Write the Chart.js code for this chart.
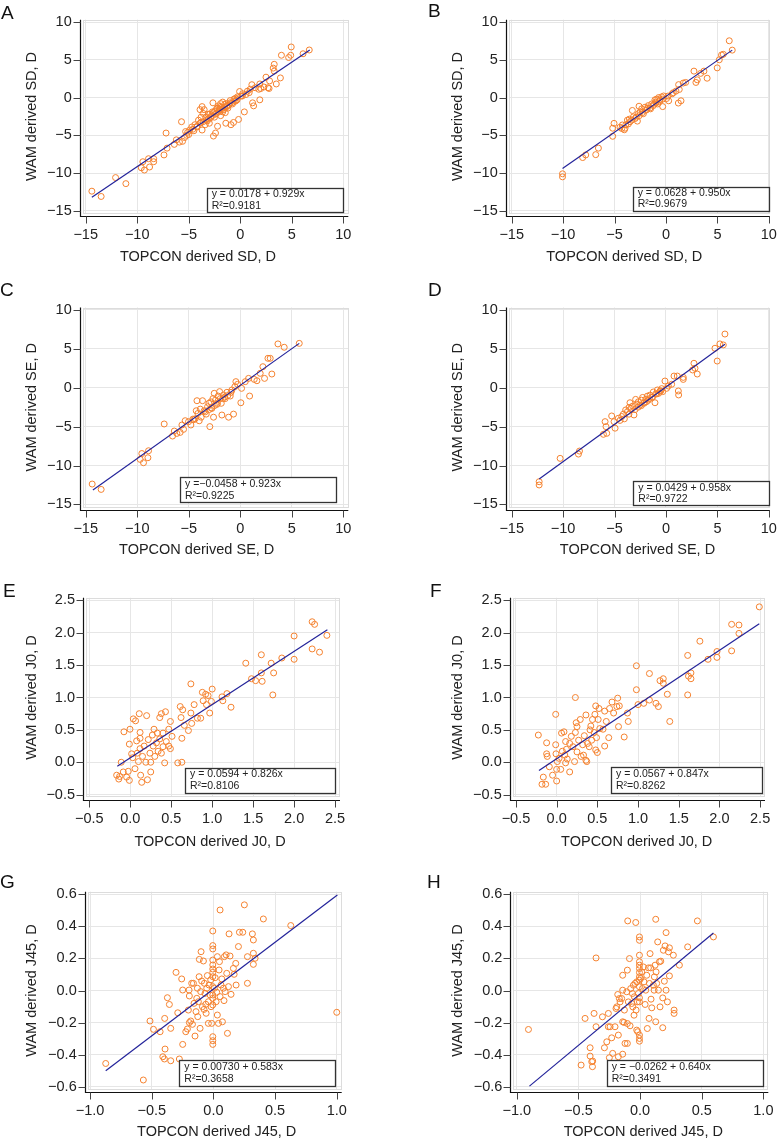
<!DOCTYPE html>
<html>
<head>
<meta charset="utf-8">
<script src="https://cdn.jsdelivr.net/npm/chart.js@4.4.1/dist/chart.umd.min.js"></script>
<style>
  body { margin: 0; background: #fff; }
  #fig { position: relative; width: 780px; height: 1140px; overflow: hidden; background: #fff;
         font-family: "Liberation Sans", Arial, sans-serif; }
  #fig canvas { position: absolute; }
  .tag { position: absolute; font-size: 19px; line-height: 19px; color: #111; }
</style>
</head>
<body>
<div id="fig"></div>
<script>
// Tick values
const sdTicks = [-15, -10, -5, 0, 5, 10];
const j0Ticks = [-0.5, 0, 0.5, 1, 1.5, 2, 2.5];
const j45xTicks = [-1, -0.5, 0, 0.5, 1];
const j45yTicks = [-0.6, -0.4, -0.2, 0, 0.2, 0.4, 0.6];

// Panel A: TOPCON SD vs WAM SD
const pointsA = [[-14.4,-12.4],[-13.5,-13.1],[-12.1,-10.6],[-11.1,-11.4],[-9.6,-9.3],[-9.3,-9.6],[-9.45,-8.5],[-8.9,-8.1],[-8.8,-9.2],[-8.4,-8.5],[-8.4,-8.1],[-7.4,-7.6],[-7.2,-4.7],[-7.1,-6.7],[-6.4,-6.2],[-6.2,-5.6],[-5.9,-5.9],[-5.7,-3.2],[-5.6,-5.8],[-5.4,-5.3],[-5.3,-4.5],[-5.2,-5.0],[-5.0,-4.9],[-4.9,-4.3],[-4.7,-3.9],[-4.5,-4.4],[-4.4,-3.6],[-4.2,-3.8],[-4.05,-3.0],[-3.9,-3.4],[-3.9,-1.6],[-3.8,-2.6],[-3.7,-1.2],[-3.6,-2.1],[-3.5,-1.6],[-3.7,-4.3],[-3.4,-3.6],[-3.2,-3.1],[-3.1,-2.8],[-3.0,-3.4],[-2.85,-2.5],[-2.7,-1.9],[-2.65,-0.7],[-2.6,-5.1],[-2.5,-2.6],[-2.4,-4.7],[-2.3,-2.1],[-2.3,-1.5],[-2.2,-3.8],[-2.1,-1.1],[-2.0,-1.7],[-1.9,-0.8],[-1.9,-2.4],[-1.8,-1.3],[-1.7,-0.6],[-1.6,-1.6],[-1.5,-0.9],[-1.45,-2.0],[-1.4,-3.4],[-1.3,-1.1],[-1.2,-1.4],[-1.0,-0.7],[-0.97,-0.4],[-0.9,-3.6],[-0.75,-0.85],[-0.65,-3.3],[-0.6,-0.2],[-0.45,-0.1],[-0.4,-0.4],[-0.26,0.1],[-0.16,-2.9],[-0.06,0.8],[0.06,0.2],[0.23,0.5],[0.4,-1.9],[0.55,0.4],[0.7,0.85],[0.87,0.65],[0.97,1.1],[1.13,1.7],[1.2,-0.7],[1.3,-1.1],[1.45,1.3],[1.8,1.1],[1.9,1.8],[2.0,1.2],[1.9,-0.3],[2.3,1.4],[2.5,2.7],[2.7,1.3],[2.85,2.2],[2.8,1.2],[3.2,3.9],[3.3,4.4],[3.3,3.5],[3.5,1.8],[3.9,2.6],[4.0,5.6],[4.7,5.3],[4.9,5.6],[4.95,6.7],[6.1,5.8],[6.7,6.3],[-4.2,-3.9],[-3.3,-3.0],[-2.9,-2.7],[-2.4,-2.2],[-2.1,-1.9],[-1.8,-1.6],[-1.5,-1.3],[-1.1,-1.0],[-0.8,-0.7],[-0.3,-0.3],[0.2,0.2],[-3.6,-3.2],[-4.6,-4.2],[-5.1,-4.6],[-2.7,-2.4],[-2.0,-1.5],[-1.3,-1.2],[-0.5,-0.5],[-1.7,-1.9],[-2.6,-2.0],[-3.1,-2.2],[-2.2,-1.4],[-3.8,-3.3],[-3.35,-2.6],[-2.95,-2.2],[-2.45,-1.8],[-1.95,-1.2],[-1.35,-0.8]];
const lineA = [[-14.4,-13.2],[6.75,6.3]];
const legendA = ['y = 0.0178 + 0.929x', 'R²=0.9181'];

// Panel B
const pointsB = [[-10.06,-10.1],[-10.06,-10.5],[-8.1,-7.95],[-7.8,-7.6],[-6.83,-7.56],[-6.57,-6.7],[-5.18,-4.06],[-5.05,-3.42],[-5.18,-5.13],[-4.47,-3.93],[-4.24,-3.63],[-4.05,-4.27],[-3.98,-4.06],[-3.75,-2.99],[-3.66,-3.5],[-3.56,-2.86],[-3.33,-2.99],[-3.27,-1.71],[-3.17,-2.56],[-3.0,-2.78],[-2.78,-3.12],[-2.69,-2.14],[-2.62,-1.15],[-2.52,-1.92],[-2.36,-1.5],[-2.2,-2.14],[-2.04,-1.28],[-1.88,-1.62],[-1.72,-1.07],[-1.55,-1.37],[-1.39,-0.85],[-1.23,-1.07],[-1.07,-0.3],[-0.97,-0.73],[-0.9,-0.21],[-0.81,-0.85],[-0.71,0],[-0.58,-0.3],[-0.42,0.09],[-0.32,-1.2],[-0.23,0.21],[0.06,-0.13],[0.26,-0.43],[0.71,0.64],[0.97,0.85],[1.2,-0.73],[1.23,1.71],[1.29,1.07],[1.46,-0.43],[1.68,1.92],[1.91,2.0],[2.72,3.5],[2.91,2.0],[3.04,2.35],[3.37,3.2],[3.69,3.5],[4.0,2.56],[4.98,3.93],[5.18,5.0],[5.4,5.64],[5.57,5.73],[6.15,7.52],[6.44,6.28],[-3.5,-3.2],[-2.9,-2.6],[-2.3,-2.0],[-1.8,-1.4],[-1.2,-0.9],[-0.6,-0.5],[-2.6,-2.4],[-1.5,-1.5],[-3.9,-3.6],[-4.3,-4.1],[-0.3,-0.2],[0.2,0.2],[0.6,0.5],[-1.0,-0.6],[-2.0,-1.7]];
const lineB = [[-10.06,-9.4],[6.44,6.28]];
const legendB = ['y = 0.0628 + 0.950x', 'R²=0.9679'];

// Panel C
const pointsC = [[-14.37,-12.38],[-13.5,-13.07],[-9.71,-9.21],[-9.55,-8.46],[-9.39,-9.64],[-8.96,-9.0],[-8.9,-8.1],[-7.38,-4.66],[-6.57,-6.21],[-6.4,-5.57],[-6.15,-5.87],[-5.83,-5.74],[-5.66,-4.79],[-5.5,-5.35],[-5.34,-4.24],[-5.02,-4.37],[-4.79,-4.79],[-4.6,-4.04],[-4.37,-3.99],[-4.27,-2.96],[-4.2,-1.67],[-4.11,-3.31],[-3.98,-4.25],[-3.88,-2.75],[-3.79,-3.79],[-3.66,-1.67],[-3.5,-2.96],[-3.3,-3.39],[-3.17,-2.45],[-3.04,-2.0],[-2.95,-5.0],[-2.85,-1.81],[-2.75,-2.66],[-2.65,-1.4],[-2.59,-3.79],[-2.52,-0.72],[-2.4,-1.58],[-2.27,-2.14],[-2.14,-1.07],[-2.0,-0.5],[-1.94,-1.4],[-1.84,-2.0],[-1.78,-3.51],[-1.62,-0.94],[-1.46,-1.4],[-1.29,-0.59],[-1.13,-3.79],[-0.97,-1.07],[-0.81,-0.29],[-0.65,-3.39],[-0.52,0.14],[-0.42,0.78],[-0.26,0.44],[0.06,-1.93],[0.13,-0.08],[0.49,0.78],[0.81,1.2],[0.91,-1.07],[1.36,1.07],[1.62,0.9],[1.94,1.85],[2.2,2.7],[2.36,1.2],[2.69,3.78],[2.91,3.78],[3.07,1.76],[3.66,5.63],[4.27,5.2],[5.73,5.7],[-3.4,-3.1],[-2.8,-2.6],[-2.2,-2.0],[-1.7,-1.4],[-1.2,-1.0],[-0.9,-0.6],[-2.5,-2.3],[-3.0,-2.8],[-4.5,-4.1],[-1.5,-1.2]];
const lineC = [[-14.3,-13.15],[5.73,5.7]];
const legendC = ['y =\u22120.0458 + 0.923x', 'R²=0.9225'];

// Panel D
const pointsD = [[-12.33,-12.08],[-12.33,-12.5],[-10.29,-9.08],[-8.51,-8.53],[-8.41,-8.14],[-6.08,-5.99],[-5.92,-4.36],[-5.76,-5.86],[-5.83,-5.0],[-5.28,-3.63],[-5.05,-4.36],[-4.95,-5.2],[-4.63,-3.93],[-4.47,-4.2],[-4.3,-3.7],[-4.14,-3.4],[-4.05,-4.0],[-3.92,-2.86],[-3.75,-3.08],[-3.59,-2.53],[-3.5,-1.93],[-3.4,-2.66],[-3.24,-2.36],[-3.11,-3.5],[-2.95,-1.5],[-2.85,-2.1],[-2.69,-1.81],[-2.52,-2.23],[-2.39,-1.6],[-2.27,-1.25],[-2.14,-2.0],[-1.97,-1.5],[-1.81,-1.08],[-1.72,-1.6],[-1.55,-0.95],[-1.39,-1.25],[-1.23,-0.55],[-1.07,-1.93],[-1.0,-0.8],[-0.84,-0.29],[-0.71,-0.72],[-0.58,-0.42],[-0.42,-0.12],[-0.32,-0.5],[-0.1,0.86],[0.06,-0.08],[0.23,0.22],[0.55,0.44],[0.78,1.5],[1.1,1.5],[1.2,-0.42],[1.23,-0.93],[1.68,1.07],[1.68,1.33],[2.59,2.28],[2.72,3.14],[2.82,2.5],[3.04,1.76],[4.76,5.07],[4.98,3.43],[5.24,5.63],[5.73,6.9],[5.57,5.5],[-3.0,-2.8],[-2.4,-2.3],[-1.9,-1.8],[-1.3,-1.2],[-0.9,-0.8],[-2.7,-2.5],[-3.6,-3.4],[-1.6,-1.4],[-0.5,-0.4],[-2.1,-1.9]];
const lineD = [[-12.33,-11.73],[5.73,5.58]];
const legendD = ['y = 0.0429 + 0.958x', 'R²=0.9722'];

// Panel E
const pointsE = [[-0.166,-0.2],[-0.14,-0.26],[-0.13,-0.22],[-0.11,0.0],[-0.085,-0.15],[-0.077,0.47],[-0.044,-0.23],[-0.024,-0.14],[-0.011,-0.28],[-0.011,0.28],[-0.003,0.51],[0.017,0.13],[0.03,0.07],[0.037,0.67],[0.058,-0.1],[0.065,0.64],[0.078,0.33],[0.086,0.14],[0.1,0.01],[0.11,0.75],[0.12,0.46],[0.12,0.21],[0.12,0.37],[0.127,-0.2],[0.14,-0.31],[0.15,0.09],[0.17,0.25],[0.19,0.0],[0.2,0.72],[0.21,-0.27],[0.22,0.35],[0.24,0.14],[0.25,0.0],[0.25,-0.15],[0.27,0.42],[0.28,0.25],[0.29,0.51],[0.3,0.09],[0.32,0.3],[0.33,0.45],[0.34,0.17],[0.36,0.69],[0.36,0.36],[0.38,0.75],[0.38,0.14],[0.4,0.45],[0.4,0.24],[0.42,-0.01],[0.43,0.78],[0.44,0.32],[0.47,0.51],[0.47,0.25],[0.49,0.63],[0.49,0.21],[0.51,0.4],[0.58,-0.01],[0.61,0.86],[0.62,0.69],[0.63,0.0],[0.63,0.37],[0.64,0.81],[0.66,0.57],[0.71,0.49],[0.74,1.21],[0.74,0.76],[0.75,0.6],[0.78,0.89],[0.82,0.68],[0.86,0.68],[0.88,1.08],[0.89,0.95],[0.92,1.05],[0.93,0.89],[0.95,1.03],[0.97,0.76],[0.99,0.94],[1.0,1.13],[1.12,1.01],[1.13,0.95],[1.18,1.06],[1.23,0.85],[1.41,1.53],[1.48,1.29],[1.53,1.26],[1.6,1.66],[1.6,1.38],[1.61,1.25],[1.72,1.53],[1.74,1.04],[1.75,1.38],[1.85,1.61],[2.0,1.95],[2.0,1.59],[2.22,2.17],[2.25,2.13],[2.22,1.75],[2.31,1.7],[2.4,1.96]];
const lineE = [[-0.158,-0.063],[2.406,2.047]];
const legendE = ['y = 0.0594 + 0.826x', 'R²=0.8106'];

// Panel F
const pointsF = [[-0.225,0.42],[-0.164,-0.23],[-0.18,-0.34],[-0.135,-0.34],[-0.123,0.3],[-0.123,0.13],[-0.115,0.09],[-0.09,-0.07],[-0.05,-0.2],[-0.012,0.74],[-0.012,0.27],[-0.008,0.13],[0.0,-0.11],[0.0,-0.29],[0.008,0.01],[0.03,0.06],[0.05,-0.11],[0.06,0.45],[0.07,0.17],[0.09,0.47],[0.1,0.11],[0.11,0.32],[0.11,-0.01],[0.12,0.2],[0.13,0.05],[0.16,-0.15],[0.16,0.29],[0.18,0.4],[0.2,0.24],[0.22,0.01],[0.23,1.0],[0.23,0.46],[0.24,0.61],[0.25,0.16],[0.25,0.55],[0.27,0.34],[0.29,0.66],[0.3,0.09],[0.32,0.27],[0.33,0.11],[0.34,0.41],[0.36,0.73],[0.36,0.03],[0.37,0.01],[0.38,0.29],[0.4,0.24],[0.41,0.5],[0.42,0.56],[0.43,0.34],[0.44,0.66],[0.46,0.46],[0.47,0.74],[0.48,0.19],[0.48,0.87],[0.49,0.38],[0.5,0.15],[0.51,0.66],[0.52,0.83],[0.53,0.52],[0.57,0.51],[0.59,0.79],[0.59,0.25],[0.61,0.63],[0.64,0.38],[0.65,0.83],[0.68,0.93],[0.7,0.76],[0.74,0.86],[0.75,0.99],[0.76,0.55],[0.77,0.87],[0.83,0.39],[0.87,0.76],[0.88,0.63],[0.98,1.49],[0.98,1.12],[1.0,0.89],[1.07,0.91],[1.14,1.37],[1.14,0.96],[1.22,0.91],[1.25,0.86],[1.27,1.26],[1.31,1.29],[1.31,1.22],[1.36,1.05],[1.39,0.63],[1.61,1.65],[1.61,1.04],[1.62,1.33],[1.65,1.29],[1.65,1.38],[1.76,1.87],[1.86,1.59],[1.97,1.62],[1.97,1.71],[2.15,2.13],[2.15,1.72],[2.24,2.12],[2.24,1.99],[2.49,2.4]];
const lineF = [[-0.217,-0.129],[2.49,2.14]];
const legendF = ['y = 0.0567 + 0.847x', 'R²=0.8262'];

// Panel G
const pointsG = [[-0.873,-0.455],[-0.568,-0.558],[-0.514,-0.19],[-0.486,-0.242],[-0.432,-0.257],[-0.41,-0.413],[-0.397,-0.427],[-0.392,-0.365],[-0.395,-0.174],[-0.373,-0.045],[-0.357,-0.087],[-0.346,-0.236],[-0.346,-0.438],[-0.303,0.113],[-0.289,-0.139],[-0.276,-0.427],[-0.257,0.072],[-0.249,0.003],[-0.249,-0.336],[-0.224,-0.257],[-0.211,-0.24],[-0.203,-0.122],[-0.197,0.003],[-0.195,-0.034],[-0.195,-0.2],[-0.184,-0.19],[-0.176,0.045],[-0.17,-0.211],[-0.162,0.045],[-0.157,-0.08],[-0.149,-0.284],[-0.141,-0.132],[-0.135,-0.049],[-0.13,0.014],[-0.127,-0.163],[-0.122,-0.07],[-0.116,0.086],[-0.114,0.194],[-0.108,-0.236],[-0.103,-0.007],[-0.1,0.242],[-0.095,0.059],[-0.089,-0.101],[-0.081,0.184],[-0.076,-0.118],[-0.073,0.045],[-0.068,-0.018],[-0.062,-0.086],[-0.059,-0.142],[-0.054,0.014],[-0.049,0.093],[-0.041,-0.205],[-0.041,-0.07],[-0.035,0.034],[-0.027,-0.028],[-0.022,0.066],[-0.019,-0.101],[-0.014,-0.205],[-0.005,0.371],[-0.005,0.28],[-0.005,0.259],[-0.005,0.19],[-0.005,0.159],[-0.005,0.134],[-0.005,0.113],[-0.005,0.086],[-0.005,0.024],[-0.005,-0.028],[-0.005,-0.049],[-0.005,-0.09],[-0.005,-0.288],[-0.005,-0.313],[-0.005,-0.336],[0.008,0.014],[0.014,0.08],[0.022,-0.07],[0.027,-0.011],[0.032,0.211],[0.032,-0.153],[0.041,-0.205],[0.046,0.128],[0.049,0.18],[0.054,0.502],[0.054,-0.038],[0.062,0.034],[0.068,0.072],[0.073,-0.195],[0.081,0.014],[0.086,-0.063],[0.089,0.211],[0.095,-0.007],[0.103,0.222],[0.108,0.107],[0.114,-0.267],[0.122,0.024],[0.127,0.353],[0.135,0.215],[0.143,-0.024],[0.162,0.138],[0.168,0.101],[0.181,0.169],[0.184,0.034],[0.203,0.274],[0.211,0.363],[0.238,0.363],[0.251,0.534],[0.276,0.211],[0.276,0.045],[0.316,0.353],[0.324,0.315],[0.324,0.232],[0.324,0.163],[0.338,0.201],[0.405,0.446],[0.627,0.405],[1.0,-0.136]];
const lineG = [[-0.873,-0.5],[1.005,0.596]];
const legendG = ['y = 0.00730 + 0.583x', 'R²=0.3658'];

// Panel H
const pointsH = [[-0.905,-0.243],[-0.478,-0.465],[-0.405,-0.357],[-0.405,-0.409],[-0.392,-0.444],[-0.386,-0.475],[-0.384,-0.44],[-0.446,-0.174],[-0.373,-0.143],[-0.357,0.203],[-0.357,-0.226],[-0.305,-0.164],[-0.289,-0.357],[-0.27,-0.32],[-0.257,-0.143],[-0.257,-0.226],[-0.249,-0.419],[-0.243,-0.226],[-0.23,-0.295],[-0.222,-0.392],[-0.203,-0.226],[-0.195,-0.112],[-0.189,-0.102],[-0.181,-0.025],[-0.176,-0.278],[-0.176,-0.413],[-0.168,-0.05],[-0.162,-0.071],[-0.149,-0.05],[-0.141,0.095],[-0.141,0.002],[-0.141,-0.195],[-0.141,-0.397],[-0.13,-0.199],[-0.127,-0.122],[-0.122,-0.33],[-0.108,-0.008],[-0.103,-0.206],[-0.103,-0.33],[-0.103,0.127],[-0.1,0.434],[-0.095,-0.071],[-0.086,0.199],[-0.081,-0.22],[-0.076,0.012],[-0.068,-0.081],[-0.062,-0.019],[-0.059,-0.102],[-0.054,0.033],[-0.049,-0.154],[-0.046,-0.039],[-0.041,0.044],[-0.035,0.424],[-0.032,-0.122],[-0.027,-0.247],[-0.027,0.054],[-0.022,-0.071],[-0.019,-0.257],[-0.014,-0.019],[-0.005,0.334],[-0.005,0.313],[-0.005,0.22],[-0.005,0.179],[-0.005,0.158],[-0.005,0.137],[-0.005,0.112],[-0.005,0.085],[-0.005,0.064],[-0.005,0.023],[-0.005,-0.046],[-0.005,-0.071],[-0.005,-0.278],[-0.005,-0.299],[-0.005,-0.316],[0.005,0.075],[0.014,0.116],[0.019,0.012],[0.027,0.147],[0.032,0.054],[0.041,-0.087],[0.046,0.002],[0.054,0.095],[0.059,-0.237],[0.068,0.141],[0.073,-0.174],[0.076,0.044],[0.081,0.23],[0.086,0.141],[0.089,-0.054],[0.095,-0.108],[0.108,0.033],[0.114,0.002],[0.116,0.085],[0.122,0.158],[0.127,0.444],[0.127,-0.195],[0.13,0.116],[0.135,0.044],[0.143,0.303],[0.149,0.002],[0.157,0.179],[0.162,-0.102],[0.168,0.183],[0.184,-0.232],[0.184,-0.046],[0.189,0.251],[0.197,0.058],[0.203,0.278],[0.211,0.002],[0.211,0.361],[0.222,-0.071],[0.23,0.241],[0.238,0.266],[0.238,0.091],[0.27,0.22],[0.276,-0.122],[0.276,-0.143],[0.319,0.158],[0.386,0.272],[0.465,0.434],[0.595,0.334]];
const lineH = [[-0.897,-0.596],[0.595,0.359]];
const legendH = ['y = \u22120.0262 + 0.640x', 'R²=0.3491'];

const xTitles = {
  sd: 'TOPCON derived SD, D', se: 'TOPCON derived SE, D',
  j0: 'TOPCON derived J0, D', j45: 'TOPCON derived J45, D'
};
const yTitles = {
  sd: 'WAM derived SD, D', se: 'WAM derived SE, D',
  j0: 'WAM derived J0, D', j45: 'WAM derived J45, D'
};

// Layout of each panel (canvas position, plot area, axis ranges, text spots)
const panels = [
  { tag: 'A', pos: [0, 0, 390, 285], area: [82.7, 13.3, 348.3, 213.3], xr: [-15.29, 10.49], yr: [-15.33, 10.31],
    xt: sdTicks, yt: sdTicks, dec: 0, kind: 'sd', pts: pointsA, line: lineA, legend: legendA,
    box: [206.7, 187.7, 342.7, 211.7], xTitle: [198, 256.7], yTitleX: 31.7, tagPos: [1, 3] },
  { tag: 'B', pos: [390, 0, 400, 285], area: [118.7, 13.3, 380, 213.3], xr: [-15.29, 10.1], yr: [-15.33, 10.31],
    xt: sdTicks, yt: sdTicks, dec: 0, kind: 'sd', pts: pointsB, line: lineB, legend: legendB,
    box: [242.7, 186.5, 378.3, 210.5], xTitle: [234.3, 256.7], yTitleX: 68.3, tagPos: [428, 1] },
  { tag: 'C', pos: [0, 285, 390, 285], area: [82.7, 22.5, 348.3, 222], xr: [-15.29, 10.49], yr: [-15.33, 10.31],
    xt: sdTicks, yt: sdTicks, dec: 0, kind: 'se', pts: pointsC, line: lineC, legend: legendC,
    box: [180, 192.3, 336, 217.7], xTitle: [196.7, 265], yTitleX: 31.7, tagPos: [0, 280] },
  { tag: 'D', pos: [390, 285, 400, 285], area: [118.7, 22.5, 380, 222], xr: [-15.29, 10.1], yr: [-15.33, 10.31],
    xt: sdTicks, yt: sdTicks, dec: 0, kind: 'se', pts: pointsD, line: lineD, legend: legendD,
    box: [243.3, 196.3, 379.3, 220], xTitle: [247.5, 265], yTitleX: 68.3, tagPos: [428, 280] },
  { tag: 'E', pos: [0, 570, 390, 285], area: [86, 27.8, 340, 227.2], xr: [-0.54, 2.56], yr: [-0.54, 2.54],
    xt: j0Ticks, yt: j0Ticks, dec: 1, kind: 'j0', pts: pointsE, line: lineE, legend: legendE,
    box: [185, 197.7, 335, 222.7], xTitle: [210, 271.7], yTitleX: 31.7, tagPos: [3, 581] },
  { tag: 'F', pos: [390, 570, 400, 285], area: [122.7, 27.8, 375, 227.2], xr: [-0.54, 2.56], yr: [-0.54, 2.54],
    xt: j0Ticks, yt: j0Ticks, dec: 1, kind: 'j0', pts: pointsF, line: lineF, legend: legendF,
    box: [221, 196.7, 371.7, 222.7], xTitle: [246.7, 271.7], yTitleX: 68.3, tagPos: [430, 581] },
  { tag: 'G', pos: [0, 855, 390, 285], area: [87.7, 36.7, 341.7, 234.3], xr: [-1.019, 1.04], yr: [-0.616, 0.616],
    xt: j45xTicks, yt: j45yTicks, dec: 1, kind: 'j45', pts: pointsG, line: lineG, legend: legendG,
    box: [179.3, 205, 335, 230.7], xTitle: [216.7, 276.7], yTitleX: 31.7, tagPos: [0, 872] },
  { tag: 'H', pos: [390, 855, 400, 285], area: [123.3, 36.7, 378.3, 234.3], xr: [-1.028, 1.04], yr: [-0.616, 0.616],
    xt: j45xTicks, yt: j45yTicks, dec: 1, kind: 'j45', pts: pointsH, line: lineH, legend: legendH,
    box: [216.7, 205, 372.3, 230.7], xTitle: [253.3, 276.7], yTitleX: 68.3, tagPos: [427, 872] }
];

const FONT = '"Liberation Sans", Arial, sans-serif';
const fmt = (v, dec) => v.toFixed(dec).replace('-', '\u2212');

// Draws the Stata-like frame, offset axis lines, legend box and axis titles
const stataPlugin = {
  id: 'stata',
  beforeDatasetsDraw(chart) {
    const { ctx, chartArea: a } = chart;
    ctx.save();
    ctx.strokeStyle = '#dcdcdc';
    ctx.lineWidth = 1;
    ctx.strokeRect(Math.round(a.left) + 0.5, Math.round(a.top) + 0.5,
      Math.round(a.width) - 1, Math.round(a.height) - 1);
    ctx.restore();
  },
  afterDraw(chart, args, opts) {
    const p = opts.panel;
    const { ctx, chartArea: a, scales: { x, y } } = chart;
    const ax = Math.round(a.left - 3) + 0.5;
    const ay = Math.round(a.bottom + 3) + 0.5;
    ctx.save();
    // axis lines
    ctx.strokeStyle = '#111';
    ctx.lineWidth = 1.2;
    ctx.beginPath();
    ctx.moveTo(ax, a.top);
    ctx.lineTo(ax, ay);
    ctx.lineTo(a.right, ay);
    ctx.stroke();
    // tick marks
    ctx.strokeStyle = '#444';
    ctx.lineWidth = 1;
    ctx.beginPath();
    y.ticks.forEach(t => {
      const py = Math.round(y.getPixelForValue(t.value)) + 0.5;
      ctx.moveTo(ax - 7, py); ctx.lineTo(ax, py);
    });
    x.ticks.forEach(t => {
      const px = Math.round(x.getPixelForValue(t.value)) + 0.5;
      ctx.moveTo(px, ay); ctx.lineTo(px, ay + 7);
    });
    ctx.stroke();

    // legend box
    const [bx1, by1, bx2, by2] = p.box;
    ctx.fillStyle = '#fff';
    ctx.fillRect(bx1, by1, bx2 - bx1, by2 - by1);
    ctx.strokeStyle = '#333';
    ctx.lineWidth = 1.3;
    ctx.strokeRect(Math.round(bx1) + 0.5, Math.round(by1) + 0.5, Math.round(bx2 - bx1), Math.round(by2 - by1));
    ctx.fillStyle = '#222';
    ctx.font = '10.5px ' + FONT;
    ctx.textBaseline = 'middle';
    ctx.textAlign = 'left';
    const h = by2 - by1;
    ctx.fillText(p.legend[0], bx1 + 5, by1 + h * 0.27);
    ctx.fillText(p.legend[1], bx1 + 5, by1 + h * 0.75);

    // axis titles
    ctx.fillStyle = '#222';
    ctx.font = '14.5px ' + FONT;
    ctx.textAlign = 'center';
    ctx.fillText(xTitles[p.kind], p.xTitle[0], p.xTitle[1]);
    ctx.translate(p.yTitleX, (a.top + a.bottom) / 2);
    ctx.rotate(-Math.PI / 2);
    ctx.fillText(yTitles[p.kind], 0, 0);
    ctx.restore();
  }
};

const fig = document.getElementById('fig');

panels.forEach(p => {
  const [left, top, w, h] = p.pos;
  const [cl, ct, cr, cb] = p.area;
  const cv = document.createElement('canvas');
  cv.width = w; cv.height = h;
  cv.style.left = left + 'px'; cv.style.top = top + 'px';
  cv.style.width = w + 'px'; cv.style.height = h + 'px';
  fig.appendChild(cv);

  const tag = document.createElement('div');
  tag.className = 'tag';
  tag.textContent = p.tag;
  tag.style.left = p.tagPos[0] + 'px';
  tag.style.top = p.tagPos[1] + 'px';
  fig.appendChild(tag);

  new Chart(cv, {
    data: {
      datasets: [
        {
          type: 'scatter',
          data: p.pts.map(([px, py]) => ({ x: px, y: py })),
          pointStyle: 'circle',
          pointRadius: 3,
          pointBorderWidth: 1,
          pointBorderColor: '#f5822f',
          pointBackgroundColor: 'rgba(0,0,0,0)',
          order: 2
        },
        {
          type: 'line',
          data: p.line.map(([px, py]) => ({ x: px, y: py })),
          borderColor: '#23239a',
          borderWidth: 1.2,
          pointRadius: 0,
          fill: false,
          order: 1
        }
      ]
    },
    options: {
      responsive: false,
      animation: false,
      events: [],
      layout: { padding: { left: 0, top: ct, right: w - cr, bottom: 0 } },
      plugins: {
        legend: { display: false },
        tooltip: { enabled: false },
        stata: { panel: p }
      },
      scales: {
        x: {
          type: 'linear',
          min: p.xr[0], max: p.xr[1],
          afterBuildTicks: s => { s.ticks = p.xt.map(v => ({ value: v })); },
          afterFit: s => { s.height = h - cb; },
          grid: { color: '#e6e6e6', lineWidth: 1, drawTicks: false },
          border: { display: false },
          ticks: {
            autoSkip: false, maxRotation: 0, padding: 13,
            color: '#222', font: { family: FONT, size: 14.5 },
            callback: v => fmt(v, p.dec)
          }
        },
        y: {
          type: 'linear',
          min: p.yr[0], max: p.yr[1],
          afterBuildTicks: s => { s.ticks = p.yt.map(v => ({ value: v })); },
          afterFit: s => { s.width = cl; },
          grid: { color: '#e6e6e6', lineWidth: 1, drawTicks: false },
          border: { display: false },
          ticks: {
            autoSkip: false, padding: 11,
            color: '#222', font: { family: FONT, size: 14.5 },
            callback: v => fmt(v, p.dec)
          }
        }
      }
    },
    plugins: [stataPlugin]
  });
});
</script>
</body>
</html>
